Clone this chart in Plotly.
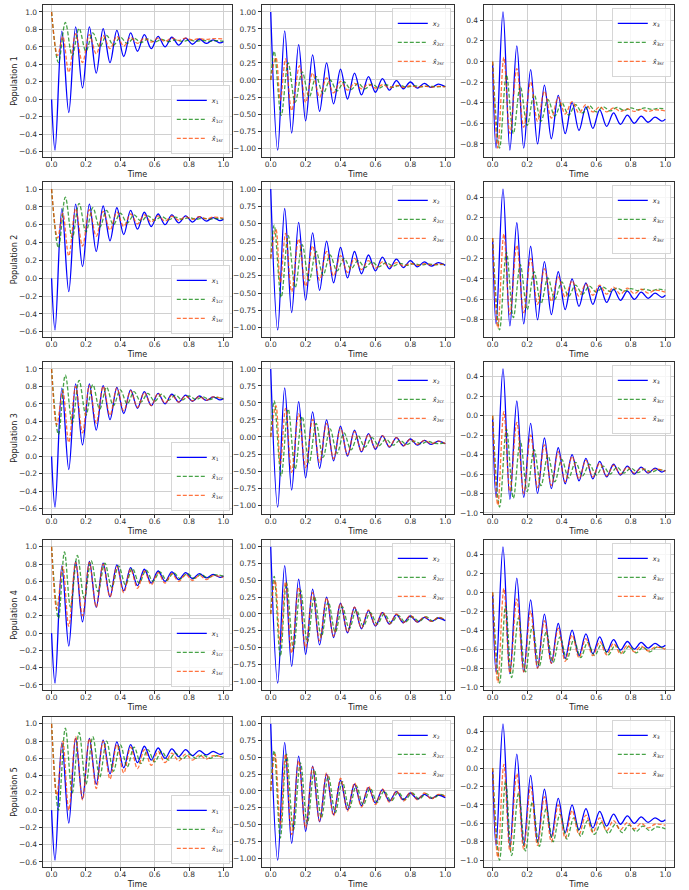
import plotly.graph_objects as go

# ---------------- data (extrema: (time, value)) ----------------
X1_TRUE = [(0,0),(0.02,-0.58),(0.06,0.78),(0.10,-0.15),(0.14,0.83),(0.18,0.13),(0.22,0.83),(0.26,0.30),(0.30,0.81),(0.34,0.42),(0.38,0.79),(0.42,0.49),(0.46,0.76),(0.50,0.55),(0.54,0.74),(0.58,0.58),(0.62,0.72),(0.66,0.60),(0.70,0.71),(0.74,0.62),(0.78,0.70),(0.82,0.63),(0.86,0.69),(0.90,0.64),(0.94,0.68),(0.98,0.645),(1.0,0.66)]
X2_TRUE = [(0,1.0),(0.04,-1.03),(0.08,0.72),(0.12,-0.78),(0.16,0.52),(0.20,-0.60),(0.24,0.37),(0.28,-0.46),(0.32,0.25),(0.36,-0.35),(0.40,0.16),(0.44,-0.28),(0.48,0.10),(0.52,-0.22),(0.56,0.05),(0.60,-0.18),(0.64,0.02),(0.68,-0.15),(0.72,-0.01),(0.76,-0.13),(0.80,-0.03),(0.84,-0.12),(0.88,-0.05),(0.92,-0.11),(0.96,-0.06),(1.0,-0.10)]
X3_TRUE = [(0,-0.03),(0.02,-0.84),(0.06,0.48),(0.10,-0.86),(0.14,0.15),(0.18,-0.84),(0.22,-0.08),(0.26,-0.80),(0.30,-0.23),(0.34,-0.75),(0.38,-0.33),(0.42,-0.70),(0.46,-0.40),(0.50,-0.67),(0.54,-0.44),(0.58,-0.65),(0.62,-0.47),(0.66,-0.63),(0.70,-0.50),(0.74,-0.61),(0.78,-0.52),(0.82,-0.60),(0.86,-0.53),(0.90,-0.59),(0.94,-0.54),(0.98,-0.58),(1.0,-0.56)]

# Population 1
P1_X1_CR = [(0,1.0),(0.04,0.42),(0.08,0.88),(0.12,0.50),(0.16,0.81),(0.20,0.55),(0.24,0.76),(0.28,0.60),(0.32,0.73),(0.36,0.62),(0.40,0.71),(0.44,0.64),(0.48,0.70),(0.52,0.65),(0.56,0.69),(0.60,0.655),(0.64,0.685),(0.68,0.66),(0.72,0.68),(0.76,0.662),(0.80,0.678),(0.84,0.664),(0.88,0.675),(0.92,0.665),(0.96,0.672),(1.0,0.665)]
P1_X1_SR = [(0,1.0),(0.035,0.50),(0.065,0.72),(0.10,0.31),(0.14,0.75),(0.18,0.42),(0.22,0.74),(0.26,0.52),(0.30,0.73),(0.34,0.58),(0.38,0.72),(0.42,0.61),(0.46,0.71),(0.50,0.64),(0.54,0.70),(0.58,0.655),(0.62,0.70),(0.66,0.665),(0.70,0.70),(0.74,0.675),(0.78,0.70),(0.82,0.68),(0.86,0.695),(0.90,0.685),(0.94,0.695),(1.0,0.69)]
P1_X2_CR = [(0,0),(0.02,0.42),(0.06,-0.52),(0.10,0.25),(0.14,-0.33),(0.18,0.12),(0.22,-0.25),(0.26,0.05),(0.30,-0.20),(0.34,0.0),(0.38,-0.16),(0.42,-0.03),(0.46,-0.14),(0.50,-0.05),(0.54,-0.13),(0.58,-0.06),(0.62,-0.12),(0.66,-0.07),(0.70,-0.11),(0.74,-0.08),(0.78,-0.105),(0.82,-0.085),(0.86,-0.10),(0.90,-0.09),(0.95,-0.10),(1.0,-0.095)]
P1_X2_SR = [(0,0),(0.03,0.33),(0.055,-0.30),(0.085,0.31),(0.12,-0.45),(0.165,0.21),(0.20,-0.33),(0.24,0.10),(0.28,-0.25),(0.32,0.03),(0.36,-0.19),(0.40,-0.02),(0.44,-0.15),(0.48,-0.05),(0.52,-0.13),(0.56,-0.06),(0.60,-0.12),(0.64,-0.07),(0.68,-0.115),(0.72,-0.08),(0.76,-0.11),(0.80,-0.085),(0.84,-0.105),(0.88,-0.09),(0.92,-0.105),(0.96,-0.095),(1.0,-0.10)]
P1_X3_CR = [(0,0),(0.04,-0.84),(0.08,-0.13),(0.12,-0.70),(0.16,-0.24),(0.20,-0.62),(0.24,-0.32),(0.28,-0.58),(0.32,-0.37),(0.36,-0.53),(0.40,-0.40),(0.44,-0.52),(0.48,-0.42),(0.52,-0.50),(0.56,-0.43),(0.60,-0.49),(0.64,-0.44),(0.68,-0.48),(0.72,-0.445),(0.76,-0.475),(0.80,-0.45),(0.84,-0.47),(0.88,-0.45),(0.92,-0.465),(0.96,-0.455),(1.0,-0.46)]
P1_X3_SR = [(0,0),(0.03,-0.84),(0.065,0.04),(0.10,-0.70),(0.14,-0.07),(0.18,-0.64),(0.22,-0.20),(0.26,-0.58),(0.30,-0.29),(0.34,-0.55),(0.38,-0.35),(0.42,-0.51),(0.46,-0.39),(0.50,-0.50),(0.54,-0.42),(0.58,-0.49),(0.62,-0.44),(0.66,-0.49),(0.70,-0.45),(0.74,-0.485),(0.78,-0.46),(0.82,-0.485),(0.86,-0.465),(0.90,-0.485),(0.94,-0.47),(1.0,-0.48)]

# Population 2
P2_X1_CR = [(0,1.0),(0.04,0.34),(0.08,0.91),(0.12,0.45),(0.16,0.84),(0.20,0.52),(0.24,0.79),(0.28,0.57),(0.32,0.76),(0.36,0.60),(0.40,0.73),(0.44,0.62),(0.48,0.71),(0.52,0.64),(0.56,0.70),(0.60,0.65),(0.64,0.69),(0.68,0.655),(0.72,0.685),(0.76,0.66),(0.80,0.68),(0.84,0.66),(0.88,0.675),(0.92,0.662),(0.96,0.67),(1.0,0.665)]
P2_X1_SR = [(0,1.0),(0.035,0.45),(0.065,0.73),(0.10,0.25),(0.14,0.78),(0.18,0.36),(0.22,0.77),(0.26,0.47),(0.30,0.75),(0.34,0.54),(0.38,0.74),(0.42,0.58),(0.46,0.72),(0.50,0.61),(0.54,0.71),(0.58,0.63),(0.62,0.70),(0.66,0.64),(0.70,0.695),(0.74,0.65),(0.78,0.69),(0.82,0.66),(0.86,0.69),(0.90,0.665),(0.94,0.685),(1.0,0.675)]
P2_X2_CR = [(0,0),(0.02,0.48),(0.06,-0.56),(0.10,0.33),(0.14,-0.42),(0.18,0.20),(0.22,-0.32),(0.26,0.10),(0.30,-0.24),(0.34,0.05),(0.38,-0.18),(0.42,0.0),(0.46,-0.15),(0.50,-0.03),(0.54,-0.13),(0.58,-0.05),(0.62,-0.12),(0.66,-0.06),(0.70,-0.11),(0.74,-0.07),(0.78,-0.10),(0.82,-0.075),(0.86,-0.095),(0.90,-0.08),(0.94,-0.09),(1.0,-0.085)]
P2_X2_SR = [(0,0),(0.03,0.42),(0.055,-0.35),(0.085,0.36),(0.12,-0.48),(0.16,0.28),(0.20,-0.40),(0.24,0.18),(0.28,-0.31),(0.32,0.10),(0.36,-0.25),(0.40,0.04),(0.44,-0.20),(0.48,0.0),(0.52,-0.16),(0.56,-0.03),(0.60,-0.14),(0.64,-0.05),(0.68,-0.12),(0.72,-0.06),(0.76,-0.11),(0.80,-0.07),(0.84,-0.10),(0.88,-0.075),(0.92,-0.095),(0.96,-0.08),(1.0,-0.09)]
P2_X3_CR = [(0,0),(0.04,-0.90),(0.08,-0.14),(0.12,-0.78),(0.16,-0.26),(0.20,-0.70),(0.24,-0.33),(0.28,-0.64),(0.32,-0.39),(0.36,-0.60),(0.40,-0.43),(0.44,-0.57),(0.48,-0.46),(0.52,-0.55),(0.56,-0.47),(0.60,-0.53),(0.64,-0.48),(0.68,-0.525),(0.72,-0.49),(0.76,-0.52),(0.80,-0.495),(0.84,-0.515),(0.88,-0.50),(0.92,-0.515),(0.96,-0.50),(1.0,-0.51)]
P2_X3_SR = [(0,0),(0.03,-0.88),(0.065,0.04),(0.10,-0.75),(0.14,-0.07),(0.18,-0.73),(0.22,-0.20),(0.26,-0.65),(0.30,-0.30),(0.34,-0.62),(0.38,-0.38),(0.42,-0.58),(0.46,-0.42),(0.50,-0.57),(0.54,-0.45),(0.58,-0.56),(0.62,-0.46),(0.66,-0.55),(0.70,-0.48),(0.74,-0.55),(0.78,-0.49),(0.82,-0.545),(0.86,-0.50),(0.90,-0.54),(0.94,-0.51),(1.0,-0.53)]

# Population 3
P3_X1_CR = [(0,1.0),(0.04,0.25),(0.08,0.93),(0.12,0.38),(0.16,0.87),(0.20,0.47),(0.24,0.82),(0.28,0.54),(0.32,0.79),(0.36,0.58),(0.40,0.76),(0.44,0.60),(0.48,0.74),(0.52,0.62),(0.56,0.72),(0.60,0.63),(0.64,0.71),(0.68,0.64),(0.72,0.70),(0.76,0.645),(0.80,0.69),(0.84,0.65),(0.88,0.68),(0.92,0.65),(0.96,0.675),(1.0,0.66)]
P3_X1_SR = [(0,1.0),(0.03,0.36),(0.065,0.75),(0.10,0.16),(0.14,0.80),(0.18,0.27),(0.22,0.81),(0.26,0.38),(0.30,0.80),(0.34,0.47),(0.38,0.78),(0.42,0.52),(0.46,0.75),(0.50,0.56),(0.54,0.73),(0.58,0.58),(0.62,0.72),(0.66,0.61),(0.70,0.70),(0.74,0.62),(0.78,0.69),(0.82,0.635),(0.86,0.685),(0.90,0.64),(0.94,0.68),(1.0,0.655)]
P3_X2_CR = [(0,0),(0.02,0.53),(0.06,-0.57),(0.10,0.41),(0.14,-0.47),(0.18,0.30),(0.22,-0.38),(0.26,0.20),(0.30,-0.30),(0.34,0.12),(0.38,-0.24),(0.42,0.06),(0.46,-0.19),(0.50,0.02),(0.54,-0.15),(0.58,-0.01),(0.62,-0.13),(0.66,-0.03),(0.70,-0.12),(0.74,-0.05),(0.78,-0.11),(0.82,-0.06),(0.86,-0.10),(0.90,-0.065),(0.94,-0.095),(1.0,-0.09)]
P3_X2_SR = [(0,0),(0.03,0.46),(0.055,-0.40),(0.085,0.42),(0.12,-0.52),(0.16,0.34),(0.20,-0.45),(0.24,0.26),(0.28,-0.37),(0.32,0.20),(0.36,-0.32),(0.40,0.13),(0.44,-0.26),(0.48,0.08),(0.52,-0.21),(0.56,0.04),(0.60,-0.17),(0.64,0.02),(0.68,-0.14),(0.72,-0.01),(0.76,-0.13),(0.80,-0.03),(0.84,-0.11),(0.88,-0.05),(0.92,-0.10),(0.96,-0.06),(1.0,-0.10)]
P3_X3_CR = [(0,0),(0.04,-0.94),(0.08,-0.14),(0.12,-0.85),(0.16,-0.26),(0.20,-0.78),(0.24,-0.35),(0.28,-0.72),(0.32,-0.41),(0.36,-0.68),(0.40,-0.45),(0.44,-0.64),(0.48,-0.48),(0.52,-0.62),(0.56,-0.50),(0.60,-0.61),(0.64,-0.52),(0.68,-0.60),(0.72,-0.53),(0.76,-0.59),(0.80,-0.54),(0.84,-0.585),(0.88,-0.55),(0.92,-0.58),(0.96,-0.555),(1.0,-0.57)]
P3_X3_SR = [(0,0),(0.03,-0.92),(0.065,0.04),(0.10,-0.78),(0.14,-0.07),(0.18,-0.80),(0.22,-0.20),(0.26,-0.74),(0.30,-0.30),(0.34,-0.72),(0.38,-0.37),(0.42,-0.68),(0.46,-0.42),(0.50,-0.65),(0.54,-0.46),(0.58,-0.63),(0.62,-0.49),(0.66,-0.62),(0.70,-0.51),(0.74,-0.60),(0.78,-0.53),(0.82,-0.59),(0.86,-0.54),(0.90,-0.58),(0.94,-0.55),(1.0,-0.57)]

# Population 4
P4_X1_CR = [(0,1.0),(0.04,0.17),(0.075,0.94),(0.11,0.30),(0.15,0.90),(0.19,0.40),(0.23,0.84),(0.27,0.48),(0.31,0.81),(0.35,0.53),(0.39,0.78),(0.43,0.56),(0.47,0.75),(0.51,0.58),(0.55,0.73),(0.59,0.60),(0.63,0.71),(0.67,0.61),(0.71,0.70),(0.75,0.63),(0.79,0.69),(0.83,0.635),(0.87,0.68),(0.91,0.64),(0.95,0.675),(1.0,0.66)]
P4_X1_SR = [(0,1.0),(0.03,0.28),(0.065,0.77),(0.10,0.08),(0.14,0.82),(0.18,0.20),(0.22,0.82),(0.26,0.30),(0.30,0.80),(0.34,0.42),(0.38,0.77),(0.42,0.47),(0.46,0.74),(0.50,0.52),(0.54,0.72),(0.58,0.56),(0.62,0.70),(0.66,0.58),(0.70,0.69),(0.74,0.60),(0.78,0.68),(0.82,0.61),(0.86,0.67),(0.90,0.62),(0.94,0.665),(1.0,0.645)]
P4_X2_CR = [(0,0),(0.02,0.56),(0.055,-0.63),(0.09,0.47),(0.13,-0.52),(0.17,0.36),(0.21,-0.42),(0.25,0.26),(0.29,-0.34),(0.33,0.18),(0.37,-0.27),(0.41,0.11),(0.45,-0.22),(0.49,0.06),(0.53,-0.18),(0.57,0.02),(0.61,-0.15),(0.65,0.0),(0.69,-0.13),(0.73,-0.02),(0.77,-0.12),(0.81,-0.04),(0.85,-0.11),(0.89,-0.04),(0.93,-0.11),(0.96,-0.05),(1.0,-0.09)]
P4_X2_SR = [(0,0),(0.025,0.50),(0.055,-0.45),(0.085,0.48),(0.12,-0.58),(0.16,0.40),(0.20,-0.50),(0.24,0.32),(0.28,-0.40),(0.32,0.24),(0.36,-0.33),(0.40,0.16),(0.44,-0.27),(0.48,0.10),(0.52,-0.21),(0.56,0.06),(0.60,-0.17),(0.64,0.03),(0.68,-0.15),(0.72,0.0),(0.76,-0.13),(0.80,-0.02),(0.84,-0.12),(0.88,-0.04),(0.92,-0.11),(0.96,-0.05),(1.0,-0.09)]
P4_X3_CR = [(0,0),(0.04,-0.96),(0.075,-0.14),(0.11,-0.90),(0.15,-0.27),(0.19,-0.84),(0.23,-0.36),(0.27,-0.78),(0.31,-0.42),(0.35,-0.74),(0.39,-0.47),(0.43,-0.71),(0.47,-0.50),(0.51,-0.69),(0.55,-0.53),(0.59,-0.67),(0.63,-0.55),(0.67,-0.66),(0.71,-0.56),(0.75,-0.65),(0.79,-0.57),(0.83,-0.64),(0.87,-0.58),(0.91,-0.63),(0.95,-0.58),(1.0,-0.60)]
P4_X3_SR = [(0,0),(0.03,-0.95),(0.065,0.04),(0.10,-0.85),(0.14,-0.07),(0.18,-0.84),(0.22,-0.20),(0.26,-0.80),(0.30,-0.30),(0.34,-0.75),(0.38,-0.38),(0.42,-0.73),(0.46,-0.45),(0.50,-0.69),(0.54,-0.49),(0.58,-0.67),(0.62,-0.52),(0.66,-0.66),(0.70,-0.54),(0.74,-0.65),(0.78,-0.56),(0.82,-0.63),(0.86,-0.57),(0.90,-0.62),(0.94,-0.58),(1.0,-0.60)]

# Population 5
P5_X1_CR = [(0,1.0),(0.04,0.0),(0.08,0.95),(0.12,0.20),(0.16,0.90),(0.20,0.30),(0.24,0.85),(0.28,0.38),(0.32,0.80),(0.36,0.45),(0.40,0.76),(0.44,0.50),(0.48,0.73),(0.52,0.54),(0.56,0.70),(0.60,0.56),(0.64,0.68),(0.68,0.58),(0.72,0.66),(0.76,0.59),(0.80,0.65),(0.84,0.60),(0.88,0.64),(0.92,0.60),(0.96,0.63),(1.0,0.61)]
P5_X1_SR = [(0,1.0),(0.03,0.17),(0.065,0.80),(0.10,0.0),(0.14,0.85),(0.18,0.12),(0.22,0.83),(0.26,0.25),(0.30,0.80),(0.34,0.36),(0.38,0.76),(0.42,0.43),(0.46,0.73),(0.50,0.48),(0.54,0.70),(0.58,0.52),(0.62,0.68),(0.66,0.55),(0.70,0.66),(0.74,0.57),(0.78,0.65),(0.82,0.58),(0.86,0.64),(0.90,0.59),(0.94,0.63),(1.0,0.61)]
P5_X2_CR = [(0,0),(0.02,0.60),(0.055,-0.70),(0.09,0.55),(0.13,-0.58),(0.17,0.42),(0.21,-0.48),(0.25,0.32),(0.29,-0.40),(0.33,0.22),(0.37,-0.32),(0.41,0.14),(0.45,-0.26),(0.49,0.08),(0.53,-0.21),(0.57,0.04),(0.61,-0.17),(0.65,0.0),(0.69,-0.15),(0.73,-0.02),(0.77,-0.13),(0.81,-0.03),(0.85,-0.12),(0.89,-0.04),(0.93,-0.11),(0.97,-0.05),(1.0,-0.08)]
P5_X2_SR = [(0,0),(0.025,0.55),(0.055,-0.50),(0.085,0.55),(0.12,-0.65),(0.16,0.45),(0.20,-0.55),(0.24,0.36),(0.28,-0.45),(0.32,0.27),(0.36,-0.37),(0.40,0.19),(0.44,-0.30),(0.48,0.12),(0.52,-0.24),(0.56,0.07),(0.60,-0.20),(0.64,0.03),(0.68,-0.17),(0.72,0.0),(0.76,-0.15),(0.80,-0.02),(0.84,-0.13),(0.88,-0.03),(0.92,-0.12),(0.96,-0.05),(1.0,-0.08)]
P5_X3_CR = [(0,0),(0.04,-1.0),(0.075,-0.14),(0.11,-0.95),(0.15,-0.27),(0.19,-0.90),(0.23,-0.37),(0.27,-0.85),(0.31,-0.44),(0.35,-0.80),(0.39,-0.50),(0.43,-0.77),(0.47,-0.54),(0.51,-0.74),(0.55,-0.57),(0.59,-0.72),(0.63,-0.59),(0.67,-0.71),(0.71,-0.61),(0.75,-0.70),(0.79,-0.62),(0.83,-0.69),(0.87,-0.63),(0.91,-0.68),(0.95,-0.64),(1.0,-0.66)]
P5_X3_SR = [(0,0),(0.03,-0.97),(0.065,0.04),(0.10,-0.90),(0.14,-0.06),(0.18,-0.88),(0.22,-0.20),(0.26,-0.84),(0.30,-0.31),(0.34,-0.80),(0.38,-0.40),(0.42,-0.76),(0.46,-0.46),(0.50,-0.72),(0.54,-0.51),(0.58,-0.70),(0.62,-0.54),(0.66,-0.68),(0.70,-0.57),(0.74,-0.67),(0.78,-0.59),(0.82,-0.66),(0.86,-0.60),(0.90,-0.65),(0.94,-0.61),(1.0,-0.62)]

TIME_TICKS = [0.0, 0.2, 0.4, 0.6, 0.8, 1.0]
ROW_LABELS = ["Population 1", "Population 2", "Population 3", "Population 4", "Population 5"]
TRUE_STATES = [X1_TRUE, X2_TRUE, X3_TRUE]
ESTIMATES = [
    [(P1_X1_CR, P1_X1_SR), (P1_X2_CR, P1_X2_SR), (P1_X3_CR, P1_X3_SR)],
    [(P2_X1_CR, P2_X1_SR), (P2_X2_CR, P2_X2_SR), (P2_X3_CR, P2_X3_SR)],
    [(P3_X1_CR, P3_X1_SR), (P3_X2_CR, P3_X2_SR), (P3_X3_CR, P3_X3_SR)],
    [(P4_X1_CR, P4_X1_SR), (P4_X2_CR, P4_X2_SR), (P4_X3_CR, P4_X3_SR)],
    [(P5_X1_CR, P5_X1_SR), (P5_X2_CR, P5_X2_SR), (P5_X3_CR, P5_X3_SR)],
]

# ---------------- layout geometry ----------------
W, H = 689, 890
COL_PX = [(43, 232), (262, 454), (484, 674)]
ROW_PX = [(5, 157), (182, 337), (362, 514), (540, 690), (717, 867)]

BLUE = "#0000ff"
GREEN = "rgba(0,128,0,0.72)"
ORANGE = "rgba(255,69,0,0.75)"
FONT = "DejaVu Sans"

fig = go.Figure()
layout = dict(
    width=W, height=H, margin=dict(l=0, r=0, t=0, b=0, autoexpand=False),
    paper_bgcolor="white", plot_bgcolor="white",
    font=dict(family=FONT, size=7.5, color="#222"),
    showlegend=True,
)

def xy(data):
    return [p[0] for p in data], [p[1] for p in data]

for r in range(5):
    for c in range(3):
        k = r * 3 + c + 1
        xs = "" if k == 1 else str(k)
        i = c + 1
        leg = "legend" if k == 1 else f"legend{k}"
        cr, sr = ESTIMATES[r][c]
        series = [
            (TRUE_STATES[c], dict(color=BLUE, width=1.3), f"<i>x</i><sub>{i}</sub>"),
            (cr, dict(color=GREEN, width=1.3, dash="4px,2px"), f"<i>x̂</i><sub>{i}cr</sub>"),
            (sr, dict(color=ORANGE, width=1.3, dash="4px,2px"), f"<i>x̂</i><sub>{i}sr</sub>"),
        ]
        lo, hi = 1e9, -1e9
        for data, line, name in series:
            t, v = xy(data)
            lo, hi = min(lo, min(v)), max(hi, max(v))
            fig.add_trace(go.Scatter(
                x=t, y=v, mode="lines", name=name, line=dict(shape="spline", smoothing=1.0, **line),
                xaxis="x" + xs, yaxis="y" + xs, legend=leg, showlegend=True, hoverinfo="skip",
            ))
        pad = (hi - lo) * 0.05
        x0, x1 = COL_PX[c]
        y0, y1 = ROW_PX[r]
        dom_x = [x0 / W, x1 / W]
        dom_y = [1 - y1 / H, 1 - y0 / H]
        axis_common = dict(
            automargin=False,
            showline=True, linecolor="#333", linewidth=0.8, mirror=True,
            ticks="outside", ticklen=3.5, tickwidth=0.8, tickcolor="#333",
            showgrid=True, gridcolor="#d0d0d0", gridwidth=0.8, zeroline=False,
            tickfont=dict(family=FONT, size=7.5, color="#333"),
        )
        layout["xaxis" + xs] = dict(
            axis_common, domain=dom_x, anchor="y" + xs, range=[-0.05, 1.05],
            tickvals=TIME_TICKS, tickformat=".1f", ticklabelstandoff=-3,
            title=dict(text="Time", font=dict(family=FONT, size=8, color="#222"), standoff=2),
        )
        ydict = dict(
            axis_common, domain=dom_y, anchor="x" + xs, range=[lo - pad, hi + pad],
            tick0=0, dtick=0.25 if c == 1 else 0.2, tickformat=".2f" if c == 1 else ".1f",
        )
        if c == 0:
            ydict["title"] = dict(text=ROW_LABELS[r], font=dict(family=FONT, size=8, color="#222"), standoff=0)
        layout["yaxis" + xs] = ydict
        if c == 0:
            lx, ly, ya = (x1 - 2) / W, 1 - (y1 - 3) / H, "bottom"
        else:
            lx, ly, ya = (x1 - 3) / W, 1 - (y0 + 3) / H, "top"
        layout[leg] = dict(
            x=lx, y=ly, xanchor="right", yanchor=ya,
            bgcolor="rgba(255,255,255,0.8)", bordercolor="#cccccc", borderwidth=0.8,
            font=dict(family=FONT, size=6.5, color="#222"), tracegroupgap=0,
            itemwidth=30,
        )

fig.update_layout(**layout)
fig.write_html(
    "out.html",
    config={"displayModeBar": False},
    post_script="document.body.style.margin='0';document.body.style.padding='0';",
)
